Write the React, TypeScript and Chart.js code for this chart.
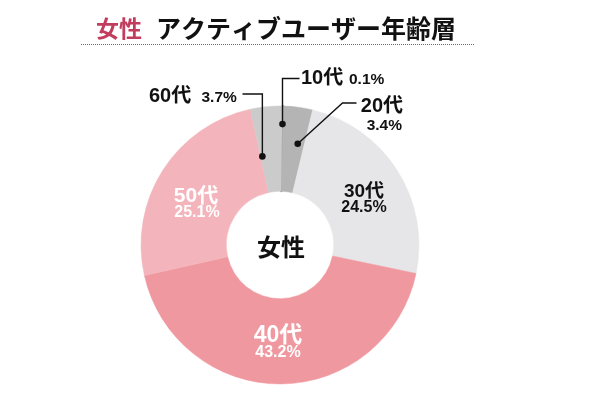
import React, { useEffect, useRef } from "react";
import { Chart, registerables } from "chart.js";

Chart.register(...registerables);

const categories = ["10代", "20代", "30代", "40代", "50代", "60代"];
const shares = [0.1, 3.4, 24.5, 43.2, 25.1, 3.7];
const shareLabels = ["0.1%", "3.4%", "24.5%", "43.2%", "25.1%", "3.7%"];
const sliceColors = ["#8c8c8c", "#b4b4b4", "#e6e6e8", "#f0989f", "#f3b4bb", "#cbcbcb"];
const titleAccent = "女性";
const titleRest = "アクティブユーザー年齢層";
const centerText = "女性";

const LATIN = "'Liberation Sans', 'Noto Sans CJK JP', sans-serif";
const CJK = "'Noto Sans CJK JP', sans-serif";

const labelPlugin = {
  id: "labelPlugin",
  afterDraw(chart: any) {
    const ctx = chart.ctx as CanvasRenderingContext2D;
    const meta = chart.getDatasetMeta(0);
    const arcs = meta.data as any[];
    if (!arcs.length) return;
    const cx = arcs[0].x;
    const cy = arcs[0].y;
    const R = arcs[0].outerRadius;

    const anchor = (i: number, frac: number, rf: number) => {
      const a = arcs[i];
      const ang = a.startAngle + (a.endAngle - a.startAngle) * frac;
      return { x: cx + Math.cos(ang) * R * rf, y: cy + Math.sin(ang) * R * rf };
    };

    ctx.save();
    // Title
    ctx.textBaseline = "alphabetic";
    ctx.textAlign = "left";
    ctx.fillStyle = "#c23d5d";
    ctx.font = `bold 23px ${CJK}`;
    ctx.fillText(titleAccent, 96, 37);
    ctx.fillStyle = "#111";
    ctx.font = `bold 25px ${CJK}`;
    ctx.fillText(titleRest, 156, 38);
    // dotted rule
    ctx.strokeStyle = "#6a6a6a";
    ctx.lineWidth = 1;
    ctx.setLineDash([1, 1]);
    ctx.beginPath();
    ctx.moveTo(81, 44.5);
    ctx.lineTo(474, 44.5);
    ctx.stroke();
    ctx.setLineDash([]);

    // leader lines with dots
    ctx.strokeStyle = "#111";
    ctx.fillStyle = "#111";
    ctx.lineWidth = 1.4;
    const dot = (p: { x: number; y: number }) => {
      ctx.beginPath();
      ctx.arc(p.x, p.y, 3.3, 0, Math.PI * 2);
      ctx.fill();
    };
    // 10代
    const d10 = anchor(0, 0.5, 0.87);
    ctx.beginPath();
    ctx.moveTo(d10.x, d10.y);
    ctx.lineTo(d10.x, cy - 166.5);
    ctx.lineTo(cx + 19.5, cy - 166.5);
    ctx.stroke();
    dot(d10);
    // 20代
    const d20 = anchor(1, 0.7, 0.74);
    ctx.beginPath();
    ctx.moveTo(d20.x, d20.y);
    ctx.lineTo(cx + 62.5, cy - 142);
    ctx.lineTo(cx + 76.5, cy - 142);
    ctx.stroke();
    dot(d20);
    // 60代
    const d60 = anchor(5, 0.08, 0.65);
    ctx.beginPath();
    ctx.moveTo(d60.x, d60.y);
    ctx.lineTo(d60.x, cy - 151);
    ctx.lineTo(cx - 37.5, cy - 151);
    ctx.stroke();
    dot(d60);

    // outside texts
    ctx.fillStyle = "#111";
    ctx.textAlign = "left";
    ctx.font = `bold 20px ${LATIN}`;
    ctx.fillText(categories[0], cx + 21, cy - 161);
    ctx.fillText(categories[5], cx - 131, cy - 143);
    ctx.font = `bold 15.5px ${LATIN}`;
    ctx.fillText(shareLabels[0], cx + 69, cy - 161);
    ctx.fillText(shareLabels[5], cx - 78.5, cy - 143);
    ctx.textAlign = "right";
    ctx.font = `bold 20px ${LATIN}`;
    ctx.fillText(categories[1], cx + 123, cy - 133);
    ctx.font = `bold 15.5px ${LATIN}`;
    ctx.fillText(shareLabels[1], cx + 122, cy - 115);

    // inside texts
    ctx.textAlign = "center";
    ctx.fillStyle = "#111";
    ctx.font = `bold 19px ${LATIN}`;
    ctx.fillText(categories[2], cx + 84, cy - 48);
    ctx.font = `bold 16px ${LATIN}`;
    ctx.fillText(shareLabels[2], cx + 84, cy - 33);

    ctx.fillStyle = "#ffffff";
    ctx.font = `bold 23px ${LATIN}`;
    ctx.fillText(categories[3], cx - 2, cy + 97);
    ctx.font = `bold 16px ${LATIN}`;
    ctx.fillText(shareLabels[3], cx - 2, cy + 112);

    ctx.font = `bold 21px ${LATIN}`;
    ctx.fillText(categories[4], cx - 84, cy - 43);
    ctx.font = `bold 16px ${LATIN}`;
    ctx.fillText(shareLabels[4], cx - 83, cy - 28);

    // center
    ctx.fillStyle = "#111";
    ctx.font = `bold 24px ${CJK}`;
    ctx.textBaseline = "middle";
    ctx.fillText(centerText, cx + 1, cy + 2);
    ctx.restore();
  },
};

export default function App() {
  const ref = useRef<HTMLCanvasElement | null>(null);
  useEffect(() => {
    if (!ref.current) return;
    const chart = new Chart(ref.current, {
      type: "doughnut",
      data: {
        labels: categories,
        datasets: [
          {
            data: shares,
            backgroundColor: sliceColors,
            borderColor: sliceColors,
            borderWidth: [2, 0.5, 0.5, 0.5, 0.5, 0.5],
          },
        ],
      },
      options: {
        responsive: false,
        animation: false,
        rotation: 1,
        cutout: "38.6%",
        layout: { padding: { left: 140, right: 180, top: 105, bottom: 13 } },
        plugins: {
          legend: { display: false },
          tooltip: { enabled: false },
          title: { display: false },
        },
      },
      plugins: [labelPlugin],
    } as any);
    return () => chart.destroy();
  }, []);
  return (
    <div style={{ position: "absolute", left: 0, top: 0, width: 600, height: 398, background: "#fff" }}>
      <canvas ref={ref} width={600} height={398} style={{ display: "block" }} />
    </div>
  );
}
